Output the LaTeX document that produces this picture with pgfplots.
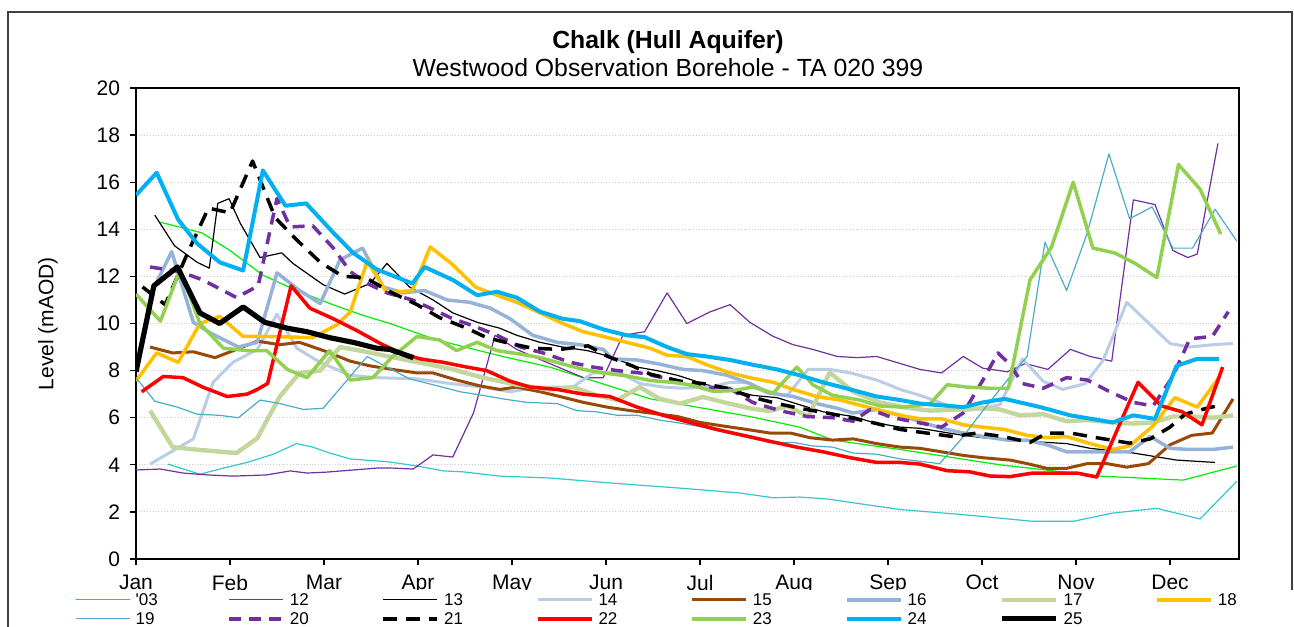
\documentclass[border=0pt]{standalone}
\usepackage{fontspec}
\setmainfont{Liberation Sans}
\usepackage{pgfplots}
\pgfplotsset{compat=1.18}
\definecolor{c03}{HTML}{00F000}
\definecolor{c12}{HTML}{7030A0}
\definecolor{c14}{HTML}{B9CDE5}
\definecolor{c15}{HTML}{984807}
\definecolor{c16}{HTML}{95B3D7}
\definecolor{c17}{HTML}{C3D69B}
\definecolor{c18}{HTML}{FFC000}
\definecolor{c19}{HTML}{4BACC6}
\definecolor{c22}{HTML}{FF0000}
\definecolor{c23}{HTML}{92D050}
\definecolor{c24}{HTML}{00B0F0}
\definecolor{ccy}{HTML}{31C8D0}
\begin{document}
\begin{tikzpicture}
\useasboundingbox (-68pt,-33.5pt) rectangle (579pt,279.5pt);
\clip (-68pt,-33.5pt) rectangle (579pt,279.5pt);
\draw[black!75, line width=0.6pt] (-64pt,-60pt) rectangle (578pt,273.5pt);
\begin{axis}[
  at={(0,0)}, anchor=south west,
  scale only axis, width=551.5pt, height=235.5pt,
  xmin=0, xmax=11.734, ymin=0, ymax=20,
  xtick={0,1,2,3,4,5,6,7,8,9,10,11},
  xticklabels={Jan,Feb,Mar,Apr,May,Jun,Jul,Aug,Sep,Oct,Nov,Dec},
  ytick={0,2,4,6,8,10,12,14,16,18,20},
  tick align=outside, xtick pos=bottom, ytick pos=left,
  major tick length=3pt,
  ymajorgrids, grid style={black!20, densely dotted, line width=0.5pt},
  axis line style={black, line width=0.8pt},
  tick style={black, line width=0.6pt},
  ticklabel style={font=\fontsize{10.5}{12}\selectfont},
  xticklabel style={yshift=-1.5pt},
  yticklabel style={xshift=-1.5pt},
  /pgf/number format/assume math mode=true,
  ylabel={Level (mAOD)},
  ylabel style={at={(axis description cs:-0.0798,0.5)}, anchor=center, font=\fontsize{10.5}{12}\selectfont},
  legend columns=8,
  legend cell align=left,
  legend style={at={(axis description cs:-0.0553,-0.0658)}, anchor=north west, draw=none, fill=white, inner sep=0pt, column sep=0pt, row sep=0pt, font=\fontsize{8.5}{10}\selectfont, nodes={text width=43.4pt, inner xsep=2.5pt, inner ysep=1pt, text height=6.5pt, text depth=1pt, align=left}},
  legend image code/.code={\draw[#1] (0pt,0pt) -- (27pt,0pt);},
  every axis plot/.append style={line join=round},
]
% unlabelled cyan series
\addplot[ccy, line width=0.6pt, forget plot] coordinates {(0.34,4.03) (0.68,3.6) (0.97,3.9) (1.18,4.1) (1.46,4.45) (1.71,4.9) (1.88,4.75) (2.06,4.5) (2.28,4.25) (2.70,4.12) (2.99,3.95) (3.27,3.74) (3.48,3.7) (3.87,3.52) (4.40,3.44) (5.04,3.23) (5.82,3.0) (6.43,2.8) (6.78,2.6) (7.06,2.63) (7.35,2.55) (8.13,2.1) (8.84,1.87) (9.54,1.6) (9.97,1.6) (10.39,1.95) (10.86,2.15) (11.32,1.7) (11.71,3.3)};
% '03
\addplot[c03, line width=0.6pt] coordinates {(0.26,14.3) (0.70,13.85) (1.00,13.1) (1.35,12.05) (1.71,11.4) (2.06,10.85) (2.41,10.35) (2.70,10.0) (3.20,9.3) (3.90,8.6) (4.40,8.15) (5.47,6.8) (6.53,6.05) (7.06,5.6) (7.41,5.05) (8.13,4.65) (9.19,4.0) (10.26,3.52) (11.14,3.35) (11.71,3.95)};
\addlegendentry{\textquotesingle 03}
% 12
\addplot[c12, line width=0.6pt] coordinates {(0,3.78) (0.26,3.82) (0.50,3.65) (0.76,3.57) (1.03,3.52) (1.39,3.57) (1.64,3.74) (1.82,3.65) (2.03,3.69) (2.31,3.78) (2.56,3.86) (2.73,3.86) (2.95,3.82) (3.16,4.42) (3.37,4.33) (3.59,6.2) (3.82,9.5) (4.05,8.9) (4.40,8.3) (4.76,7.7) (4.97,7.7) (5.18,9.5) (5.41,9.65) (5.65,11.3) (5.86,10.0) (6.11,10.5) (6.32,10.8) (6.53,10.05) (6.78,9.45) (6.99,9.1) (7.20,8.9) (7.46,8.6) (7.67,8.55) (7.88,8.6) (8.13,8.3) (8.34,8.05) (8.57,7.9) (8.80,8.6) (9.01,8.1) (9.27,7.95) (9.46,8.3) (9.70,8.05) (9.94,8.9) (10.15,8.6) (10.38,8.4) (10.61,15.25) (10.84,15.05) (11.03,13.1) (11.19,12.8) (11.29,12.95) (11.51,17.65)};
\addlegendentry{12}
% 13
\addplot[black, line width=0.6pt] coordinates {(0.20,14.6) (0.41,13.3) (0.65,12.6) (0.78,12.35) (0.87,15.1) (0.99,15.3) (1.11,14.25) (1.32,12.8) (1.55,13.0) (1.67,12.55) (1.99,11.65) (2.22,11.25) (2.49,11.7) (2.67,12.55) (2.91,11.55) (3.16,11.0) (3.37,10.45) (3.63,10.05) (3.87,9.8) (4.05,9.5) (4.30,9.2) (4.54,9.0) (4.80,8.85) (5.04,8.6) (5.33,8.15) (5.54,8.0) (5.76,7.8) (6.07,7.4) (6.32,7.2) (6.56,6.95) (6.82,6.85) (7.06,6.55) (7.31,6.25) (7.63,6.05) (7.84,5.8) (8.13,5.6) (8.34,5.55) (8.80,5.25) (9.01,5.15) (9.48,5.0) (9.90,4.9) (10.15,4.7) (10.61,4.5) (11.07,4.2) (11.48,4.1)};
\addlegendentry{13}
% 14
\addplot[c14, line width=1.5pt] coordinates {(0.15,4.03) (0.61,5.1) (0.82,7.5) (1.03,8.35) (1.29,8.9) (1.50,10.4) (1.71,8.95) (1.96,8.35) (2.28,7.8) (2.56,7.7) (2.99,7.65) (3.34,7.45) (3.69,7.3) (3.98,7.1) (4.27,7.3) (4.65,7.3) (4.86,7.9) (5.15,7.9) (5.36,7.45) (5.61,7.3) (5.82,7.25) (6.11,7.3) (6.32,7.5) (6.50,7.5) (6.71,7.05) (6.93,6.95) (7.15,8.05) (7.38,8.05) (7.60,7.9) (7.88,7.6) (8.13,7.2) (8.34,6.95) (8.80,6.3) (9.01,6.4) (9.19,6.55) (9.43,8.5) (9.65,7.55) (9.86,7.2) (10.10,7.45) (10.29,8.45) (10.54,10.9) (11.00,9.15) (11.21,9.0) (11.46,9.1) (11.67,9.15)};
\addlegendentry{14}
% 15
\addplot[c15, line width=1.5pt] coordinates {(0.15,9.0) (0.39,8.75) (0.61,8.8) (0.84,8.55) (1.07,8.9) (1.29,9.25) (1.53,9.1) (1.74,9.2) (2.03,8.8) (2.28,8.4) (2.49,8.2) (2.73,8.05) (2.99,7.9) (3.16,7.9) (3.41,7.6) (3.66,7.35) (3.87,7.2) (4.05,7.3) (4.30,7.1) (4.51,6.9) (4.76,6.65) (5.01,6.45) (5.26,6.3) (5.47,6.2) (5.76,6.05) (6.00,5.8) (6.24,5.65) (6.50,5.5) (6.74,5.35) (6.96,5.35) (7.17,5.15) (7.41,5.05) (7.63,5.1) (7.88,4.9) (8.13,4.75) (8.34,4.7) (8.80,4.4) (9.01,4.3) (9.30,4.2) (9.48,4.05) (9.69,3.85) (9.90,3.85) (10.12,4.05) (10.33,4.05) (10.54,3.9) (10.77,4.05) (11.00,4.85) (11.23,5.25) (11.45,5.35) (11.67,6.8)};
\addlegendentry{15}
% 16
\addplot[c16, line width=1.75pt] coordinates {(0.15,11.2) (0.38,13.05) (0.61,10.05) (0.79,9.6) (1.09,9.0) (1.29,9.2) (1.50,12.15) (1.74,11.4) (1.96,10.85) (2.17,12.7) (2.41,13.2) (2.63,11.55) (2.84,11.3) (3.07,11.4) (3.31,11.0) (3.55,10.9) (3.77,10.65) (3.98,10.2) (4.22,9.5) (4.48,9.2) (4.72,9.1) (4.97,8.9) (5.07,8.5) (5.33,8.45) (5.54,8.3) (5.82,8.05) (6.03,8.0) (6.29,7.8) (6.53,7.45) (6.74,7.05) (6.99,6.9) (7.24,6.6) (7.46,6.4) (7.63,6.2) (7.88,6.35) (8.13,6.1) (8.37,5.8) (8.57,5.55) (8.80,5.35) (9.01,5.2) (9.27,5.05) (9.48,5.05) (9.69,4.85) (9.90,4.55) (10.15,4.55) (10.39,4.55) (10.57,4.55) (10.79,5.2) (11.00,4.7) (11.21,4.65) (11.45,4.65) (11.67,4.75)};
\addlegendentry{16}
% 17
\addplot[c17, line width=2.2pt] coordinates {(0.15,6.3) (0.39,4.75) (0.68,4.63) (1.07,4.5) (1.29,5.13) (1.53,6.9) (1.74,7.9) (1.96,8.0) (2.17,9.0) (2.38,8.85) (2.63,8.65) (2.88,8.45) (3.13,8.25) (3.37,8.05) (3.69,7.7) (4.05,7.4) (4.40,7.2) (4.65,7.3) (4.90,6.95) (5.12,6.75) (5.36,7.3) (5.57,6.8) (5.79,6.6) (6.03,6.88) (6.29,6.62) (6.53,6.4) (6.74,6.28) (6.93,6.5) (7.15,6.05) (7.38,7.92) (7.63,7.1) (7.91,6.65) (8.20,6.42) (8.45,6.3) (8.77,6.35) (9.01,6.4) (9.19,6.35) (9.40,6.1) (9.65,6.15) (9.90,5.85) (10.12,5.9) (10.39,5.8) (10.61,5.75) (10.82,5.8) (11.03,6.05) (11.24,6.05) (11.46,6.0) (11.67,6.1)};
\addlegendentry{17}
% 18
\addplot[c18, line width=1.75pt] coordinates {(0,7.56) (0.22,8.75) (0.45,8.35) (0.68,10.0) (0.89,10.3) (1.14,9.45) (1.39,9.45) (1.88,9.4) (2.14,9.95) (2.28,10.5) (2.46,12.65) (2.67,11.3) (2.94,11.4) (3.13,13.25) (3.37,12.5) (3.61,11.55) (3.84,11.2) (4.05,10.9) (4.30,10.45) (4.54,10.0) (4.76,9.65) (4.97,9.45) (5.22,9.2) (5.47,8.95) (5.65,8.65) (5.86,8.6) (6.07,8.25) (6.32,7.9) (6.53,7.7) (6.78,7.5) (6.99,7.2) (7.24,6.9) (7.49,6.75) (7.78,6.45) (8.13,6.1) (8.34,5.95) (8.57,5.95) (8.80,5.7) (9.01,5.6) (9.24,5.5) (9.48,5.25) (9.69,5.15) (9.90,5.2) (10.15,4.9) (10.39,4.65) (10.57,4.8) (10.82,5.65) (11.05,6.85) (11.29,6.45) (11.52,7.7)};
\addlegendentry{18}
% 19
\addplot[c19, line width=0.6pt] coordinates {(0,7.7) (0.20,6.7) (0.44,6.45) (0.65,6.15) (0.89,6.1) (1.09,6.0) (1.32,6.75) (1.53,6.6) (1.78,6.35) (1.99,6.4) (2.46,8.6) (2.67,8.15) (2.91,7.65) (3.16,7.4) (3.45,7.1) (3.69,6.95) (3.90,6.8) (4.16,6.65) (4.48,6.6) (4.69,6.3) (4.90,6.25) (5.12,6.1) (5.33,6.1) (5.57,5.9) (5.82,5.75) (6.03,5.6) (6.29,5.35) (6.53,5.15) (6.74,4.95) (6.99,4.95) (7.20,4.8) (7.41,4.75) (7.63,4.5) (7.88,4.45) (8.13,4.25) (8.55,4.05) (8.77,5.05) (9.01,6.3) (9.30,7.75) (9.48,8.6) (9.67,13.45) (9.90,11.4) (10.12,13.85) (10.35,17.2) (10.57,14.45) (10.81,14.95) (11.03,13.2) (11.24,13.2) (11.48,14.85) (11.71,13.5)};
\addlegendentry{19}
% 20
\addplot[c12, line width=1.75pt, dash pattern=on 6pt off 4pt] coordinates {(0.15,12.4) (0.47,12.2) (0.71,11.85) (1.07,11.1) (1.30,11.6) (1.45,14.4) (1.50,15.3) (1.64,14.1) (1.88,14.15) (2.10,13.2) (2.28,12.2) (2.46,11.7) (2.67,11.3) (2.94,11.0) (3.16,10.6) (3.37,10.2) (3.59,9.9) (3.84,9.5) (4.09,9.0) (4.33,8.75) (4.62,8.35) (4.86,8.15) (5.12,8.0) (5.36,7.9) (5.61,7.7) (5.82,7.45) (6.07,7.25) (6.29,7.3) (6.56,6.65) (6.85,6.3) (7.14,6.05) (7.41,6.0) (7.63,5.85) (7.81,6.35) (8.05,6.0) (8.31,5.8) (8.57,5.6) (8.80,6.2) (9.01,7.6) (9.17,8.75) (9.30,8.25) (9.43,7.45) (9.65,7.25) (9.90,7.7) (10.12,7.6) (10.36,7.1) (10.61,6.65) (10.82,6.5) (11.03,7.75) (11.21,9.35) (11.45,9.45) (11.62,10.5)};
\addlegendentry{20}
% 21
\addplot[black, line width=1.75pt, dash pattern=on 7pt off 4.5pt] coordinates {(0.07,11.55) (0.31,10.8) (0.55,13.0) (0.77,14.9) (1.00,14.7) (1.24,16.9) (1.48,14.5) (1.71,13.55) (1.96,12.6) (2.20,12.0) (2.44,11.95) (2.70,11.35) (2.99,10.8) (3.23,10.25) (3.52,9.8) (3.73,9.4) (3.98,9.15) (4.22,8.95) (4.51,8.9) (4.81,9.05) (5.02,8.6) (5.28,8.2) (5.47,7.85) (5.79,7.55) (6.03,7.45) (6.29,7.25) (6.53,6.9) (6.82,6.6) (7.06,6.4) (7.35,6.2) (7.60,6.0) (7.88,5.75) (8.13,5.5) (8.41,5.35) (8.69,5.2) (8.95,5.35) (9.22,5.2) (9.51,4.95) (9.69,5.35) (9.94,5.35) (10.22,5.15) (10.57,4.92) (10.79,5.1) (11.00,5.6) (11.16,6.15) (11.39,6.4) (11.55,6.55)};
\addlegendentry{21}
% 22
\addplot[c22, line width=1.75pt] coordinates {(0.06,7.1) (0.29,7.75) (0.50,7.7) (0.71,7.3) (0.97,6.9) (1.18,7.0) (1.29,7.2) (1.40,7.45) (1.65,11.6) (1.85,10.65) (2.10,10.2) (2.35,9.7) (2.60,9.15) (2.81,8.75) (3.02,8.5) (3.27,8.35) (3.52,8.15) (3.73,8.0) (3.98,7.55) (4.19,7.3) (4.48,7.2) (4.76,7.0) (5.04,6.9) (5.33,6.45) (5.61,6.1) (5.89,5.8) (6.18,5.5) (6.46,5.25) (6.74,5.0) (7.03,4.75) (7.31,4.55) (7.60,4.3) (7.88,4.1) (8.13,4.1) (8.34,4.03) (8.63,3.75) (8.87,3.7) (9.09,3.52) (9.30,3.5) (9.54,3.65) (9.80,3.65) (10.01,3.65) (10.22,3.48) (10.44,5.5) (10.66,7.5) (10.91,6.5) (11.13,6.25) (11.34,5.7) (11.56,8.15)};
\addlegendentry{22}
% 23
\addplot[c23, line width=1.75pt] coordinates {(0,11.25) (0.26,10.1) (0.47,12.3) (0.68,10.0) (0.93,8.95) (1.18,8.85) (1.39,8.85) (1.61,8.05) (1.82,7.7) (2.06,8.85) (2.28,7.6) (2.52,7.7) (2.73,8.6) (2.99,9.45) (3.23,9.3) (3.41,8.85) (3.63,9.2) (3.84,8.85) (4.09,8.7) (4.30,8.55) (4.54,8.28) (4.76,8.05) (4.97,7.9) (5.22,7.78) (5.47,7.58) (5.71,7.5) (5.89,7.4) (6.14,7.12) (6.35,7.15) (6.56,7.3) (6.78,7.05) (7.03,8.15) (7.20,7.4) (7.41,6.95) (7.70,6.75) (7.91,6.5) (8.16,6.45) (8.45,6.6) (8.63,7.4) (8.84,7.3) (9.09,7.25) (9.28,7.25) (9.51,11.85) (9.74,13.25) (9.97,16.0) (10.18,13.2) (10.41,13.0) (10.63,12.55) (10.86,11.95) (11.09,16.75) (11.32,15.7) (11.54,13.8)};
\addlegendentry{23}
% 24
\addplot[c24, line width=2pt] coordinates {(0,15.45) (0.22,16.4) (0.45,14.4) (0.65,13.4) (0.89,12.6) (1.14,12.25) (1.35,16.5) (1.59,15.0) (1.81,15.1) (2.10,13.85) (2.31,13.0) (2.56,12.3) (2.94,11.7) (3.07,12.4) (3.37,11.85) (3.63,11.2) (3.84,11.35) (4.05,11.1) (4.30,10.5) (4.54,10.2) (4.72,10.1) (4.97,9.75) (5.22,9.5) (5.41,9.42) (5.65,9.0) (5.86,8.7) (6.07,8.6) (6.32,8.45) (6.56,8.25) (6.82,8.05) (7.06,7.8) (7.31,7.5) (7.60,7.2) (7.88,6.9) (8.13,6.75) (8.34,6.6) (8.80,6.45) (9.01,6.65) (9.24,6.8) (9.62,6.45) (9.94,6.1) (10.39,5.8) (10.61,6.1) (10.84,5.95) (11.07,8.2) (11.29,8.5) (11.52,8.5)};
\addlegendentry{24}
% 25
\addplot[black, line width=2.6pt] coordinates {(0,7.95) (0.19,11.6) (0.44,12.4) (0.68,10.45) (0.89,10.0) (1.14,10.7) (1.37,10.05) (1.61,9.8) (1.82,9.65) (2.06,9.4) (2.31,9.2) (2.56,8.95) (2.70,8.9) (2.95,8.55)};
\addlegendentry{25}
\end{axis}
\node[font=\bfseries\fontsize{12.4}{15}\selectfont, anchor=base] at (266pt,255pt) {Chalk (Hull Aquifer)};
\node[font=\fontsize{12.4}{15}\selectfont, anchor=base] at (266pt,241pt) {Westwood Observation Borehole - TA 020 399};
\end{tikzpicture}
\end{document}
